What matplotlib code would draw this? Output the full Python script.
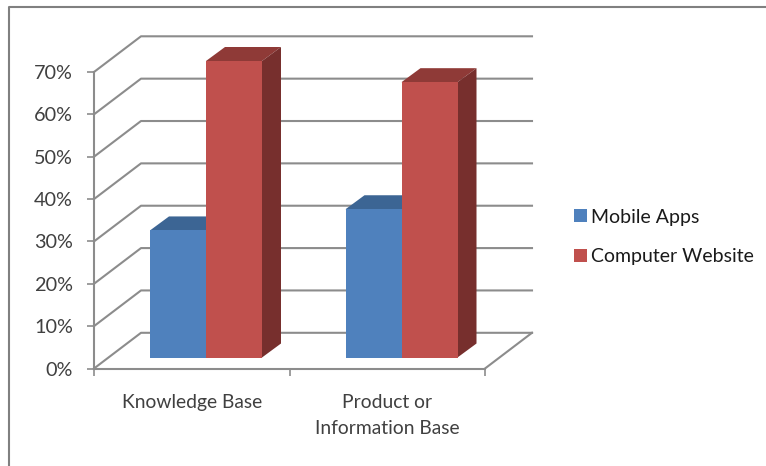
import matplotlib
matplotlib.use("Agg")
import matplotlib.pyplot as plt
from matplotlib.patches import Polygon, Rectangle

categories = ["Knowledge Base", "Product or\nInformation Base"]
series_names = ["Mobile Apps", "Computer Website"]
mobile_apps = [30, 35]
computer_website = [70, 65]
y_ticks = [0, 10, 20, 30, 40, 50, 60, 70]

W, H = 766, 466
plt.rcParams["font.family"] = "Lato"

fig = plt.figure(figsize=(W / 100, H / 100), dpi=100, facecolor="white")

# axes box is the front plane of the fake 3d chart
x0, x1, y0, y1 = 94, 485, 368.5, 72
ax = fig.add_axes([x0 / W, 1 - y0 / H, (x1 - x0) / W, (y0 - y1) / H])
ax.set_xlim(0, 2)
ax.set_ylim(0, 70)
ax.patch.set_visible(False)

# pixel sizes to data units
px_x = 2 / (x1 - x0)
px_y = 70 / (y0 - y1)
wall_dx, wall_dy = 47 * px_x, 35.7 * px_y
bar_dx, bar_dy = 19 * px_x, 14 * px_y
bar_w = 56 * px_x
bar_base = 11 * px_y
bar_start = 56 * px_x

grid_c = "#8c8c8c"

# gridlines run back along the side wall, then across the back wall
for t in y_ticks:
    ax.plot([0, wall_dx, 2 + wall_dx], [t, t + wall_dy, t + wall_dy],
            color=grid_c, lw=1.5, clip_on=False, zorder=1)
ax.plot([2, 2 + wall_dx], [0, wall_dy], color=grid_c, lw=1.5, clip_on=False, zorder=1)


def draw_bar(x, val, front, top, side):
    ax.bar(x, val, bottom=bar_base, width=bar_w, align="edge", color=front,
           clip_on=False, zorder=4)
    ytop = bar_base + val
    ax.add_patch(Polygon([(x, ytop), (x + bar_dx, ytop + bar_dy),
                          (x + bar_w + bar_dx, ytop + bar_dy), (x + bar_w, ytop)],
                         closed=True, fc=top, ec="none", clip_on=False, zorder=3))
    ax.add_patch(Polygon([(x + bar_w, bar_base), (x + bar_w + bar_dx, bar_base + bar_dy),
                          (x + bar_w + bar_dx, ytop + bar_dy), (x + bar_w, ytop)],
                         closed=True, fc=side, ec="none", clip_on=False, zorder=3))


for i in range(len(categories)):
    draw_bar(i + bar_start, mobile_apps[i], "#4f81bd", "#3c6594", "#3a5f8b")
    draw_bar(i + bar_start + bar_w, computer_website[i], "#c0504d", "#8f3a37", "#772f2d")

for s in ["top", "right"]:
    ax.spines[s].set_visible(False)
for s in ["left", "bottom"]:
    ax.spines[s].set_color(grid_c)
    ax.spines[s].set_linewidth(1.5)
    ax.spines[s].set_zorder(2)

ax.set_yticks(y_ticks)
ax.set_yticklabels(["%d%%" % t for t in y_ticks], fontsize=14.3, color="#404040")
ax.set_xticks([0, 1, 2])
ax.set_xticklabels([])
ax.set_xticks([0.5, 1.5], labels=categories, minor=True, fontsize=13.9,
              color="#404040", linespacing=1.65)
ax.tick_params(axis="x", which="major", length=5, width=1.2, color=grid_c)
ax.tick_params(axis="x", which="minor", length=0, pad=18.5)
ax.tick_params(axis="y", length=5, width=1.2, color=grid_c, pad=10)

# legend
handles = [Rectangle((0, 0), 1, 1, fc="#4f81bd"), Rectangle((0, 0), 1, 1, fc="#c0504d")]
fig.legend(handles, series_names, loc="center left", bbox_to_anchor=(574 / W, 1 - 237 / H),
           frameon=False, fontsize=14, handlelength=0.65, handleheight=0.65,
           handletextpad=0.2, labelspacing=1.15, labelcolor="#1a1a1a",
           borderpad=0, borderaxespad=0)

# outer frame runs off the right and bottom edges
fig.add_artist(plt.Line2D([9 / W, 9 / W, 1], [0, 1 - 7 / H, 1 - 7 / H],
                          color="#808080", lw=1.5, transform=fig.transFigure))

fig.savefig("out.png", dpi=100, facecolor="white")
